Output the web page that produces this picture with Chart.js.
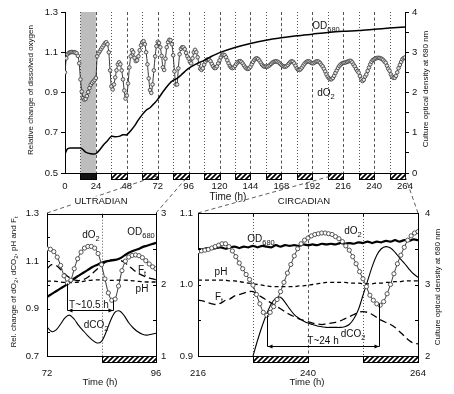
<!DOCTYPE html>
<html><head><meta charset="utf-8">
<script src="https://cdn.jsdelivr.net/npm/chart.js@4.4.1/dist/chart.umd.min.js"></script>
<style>
html,body{margin:0;padding:0;background:#fff;}
#wrap{position:relative;width:454px;height:394px;overflow:hidden;font-family:"Liberation Sans",Arial,sans-serif;color:#111;}
canvas{position:absolute;}
svg{position:absolute;left:0;top:0;}
.t{position:absolute;white-space:nowrap;line-height:1;transform:translate(-50%,-50%);font-size:10px;}
.t sub{font-size:0.75em;vertical-align:-0.35em;line-height:0;}
.r{transform:translate(-50%,-50%) rotate(-90deg);font-size:8px;}
.wb{background:#fff;padding:0 2px;}
</style></head><body><div id="wrap">
<canvas id="cTop" width="454" height="196" style="left:0;top:0"></canvas>
<canvas id="cBL" width="190" height="194" style="left:0;top:200px"></canvas>
<canvas id="cBR" width="284" height="194" style="left:170px;top:200px"></canvas>
<svg width="454" height="394"><g stroke="#333" stroke-width="0.8" stroke-dasharray="4 3" fill="none">
<path d="M47 213 L157 176"/><path d="M156 213 L189 175"/><path d="M198 213 L342 173"/><path d="M418 213 L405 176"/></g></svg>
<div class="t" style="left:326px;top:26px">OD<sub>680</sub></div>
<div class="t" style="left:326px;top:93px">dO<sub>2</sub></div>
<div class="t r" style="left:30.5px;top:90px">Relative change of dissolved oxygen</div>
<div class="t r" style="left:426px;top:89px">Culture optical density at 680 nm</div>
<div class="t" style="left:228px;top:197px">Time (h)</div>
<div class="t wb" style="left:101px;top:201px;font-size:9.5px">ULTRADIAN</div>
<div class="t wb" style="left:304px;top:201px;font-size:9.5px">CIRCADIAN</div>
<div class="t r" style="left:13.5px;top:282px">Rel. change of dO<sub>2</sub>, dCO<sub>2</sub>, pH and F<sub>t</sub></div>
<div class="t" style="left:91px;top:235px">dO<sub>2</sub></div>
<div class="t" style="left:141px;top:232px">OD<sub>680</sub></div>
<div class="t" style="left:142px;top:270px">F<sub>t</sub></div>
<div class="t" style="left:142px;top:289px">pH</div>
<div class="t" style="left:96px;top:325px">dCO<sub>2</sub></div>
<div class="t" style="left:89px;top:305px">T~10.5 h</div>
<div class="t" style="left:100px;top:381.5px;font-size:9.5px">Time (h)</div>
<div class="t" style="left:261px;top:239px">OD<sub>680</sub></div>
<div class="t" style="left:353px;top:231px">dO<sub>2</sub></div>
<div class="t" style="left:221px;top:272px">pH</div>
<div class="t" style="left:219px;top:297px">F<sub>t</sub></div>
<div class="t" style="left:353px;top:334px">dCO<sub>2</sub></div>
<div class="t" style="left:323px;top:341px">T~24 h</div>
<div class="t" style="left:307px;top:381.5px;font-size:9.5px">Time (h)</div>
<div class="t r" style="left:438px;top:287px">Culture optical density at 680 nm</div>
</div>
<script>
// ---------- DATA ----------
// Top panel: relative dissolved oxygen, hourly from 0 to 264 h
const o2Top = [
1.000,1.070,1.090,1.097,1.100,1.101,1.101,1.100,1.099,1.095,
1.082,1.045,0.965,0.905,0.872,0.865,0.868,0.882,0.902,0.922,
0.938,0.948,0.955,0.962,0.972,1.080,1.095,1.105,1.115,1.125,
1.135,1.145,1.150,1.140,1.100,1.010,0.930,0.915,0.940,0.975,
1.010,1.040,1.050,1.040,1.010,0.965,0.910,0.870,0.885,0.945,
1.025,1.080,1.110,1.100,1.072,1.056,1.060,1.080,1.110,1.135,
1.150,1.155,1.140,1.100,1.040,0.970,0.912,0.898,0.940,1.010,
1.080,1.130,1.152,1.146,1.125,1.082,1.025,1.012,1.068,1.125,
1.150,1.162,1.160,1.140,1.085,1.005,0.940,0.940,1.020,1.090,
1.117,1.125,1.124,1.115,1.097,1.080,1.068,1.052,1.045,1.070,
1.100,1.112,1.100,1.075,1.042,1.018,1.012,1.020,1.038,1.053,
1.062,1.065,1.062,1.055,1.042,1.030,1.022,1.022,1.030,1.045,
1.060,1.075,1.085,1.088,1.085,1.075,1.060,1.045,1.032,1.024,
1.021,1.024,1.032,1.042,1.050,1.055,1.056,1.052,1.044,1.034,
1.025,1.019,1.017,1.020,1.028,1.040,1.052,1.062,1.068,1.070,
1.066,1.058,1.048,1.038,1.031,1.028,1.029,1.028,1.031,1.036,
1.042,1.048,1.052,1.054,1.055,1.053,1.049,1.043,1.037,1.032,
1.029,1.028,1.031,1.037,1.045,1.052,1.055,1.053,1.045,1.033,
1.020,1.013,1.012,1.016,1.024,1.034,1.043,1.050,1.054,1.055,
1.053,1.048,1.045,1.046,1.050,1.054,1.055,1.053,1.047,1.038,
1.030,1.018,1.005,0.990,0.978,0.970,0.966,0.966,0.972,0.983,
0.997,1.010,1.022,1.032,1.039,1.044,1.047,1.048,1.050,1.052,
1.055,1.057,1.057,1.050,1.039,1.030,1.017,1.007,0.999,0.982,
0.965,0.957,0.963,0.979,0.990,1.007,1.024,1.040,1.053,1.061,
1.065,1.069,1.071,1.072,1.072,1.070,1.067,1.062,1.054,1.048,
1.033,1.018,1.008,0.990,0.979,0.973,0.973,0.983,1.000,1.021,
1.037,1.052,1.065,1.071,1.074];
const hoursTop = o2Top.map((_, i) => i);

const odTopHours = [0,2,4,8,12,14,16,20,24,27,30,33,36,39,42,45,48,51,54,57,60,63,66,69,72,75,78,81,84,87,90,93,96,102,108,114,120,132,144,156,168,180,192,204,216,228,240,252,264];
const odTop = [0.48,0.60,0.62,0.62,0.62,0.58,0.52,0.48,0.48,0.58,0.70,0.80,0.91,0.90,0.91,0.95,0.95,1.05,1.17,1.32,1.45,1.56,1.62,1.72,1.83,1.97,2.10,2.22,2.30,2.35,2.43,2.52,2.60,2.71,2.80,2.90,2.99,3.12,3.22,3.30,3.36,3.41,3.45,3.49,3.52,3.54,3.57,3.60,3.63];

const solidTop = [[12,24]];
const darkTop = [[12,24],[36,48],[60,72],[84,96],[108,120],[132,144],[156,168],[180,192],[204,216],[228,240],[252,264]];

// Bottom-left (ultradian, 72-96 h)
const o2BL = [1.152,1.150,1.140,1.117,1.082,1.038,1.008,1.020,1.068,1.110,1.138,1.155,1.162,1.162,1.155,1.132,1.085,1.025,0.966,0.935,0.940,0.995,1.060,1.100,1.117,1.124,1.126,1.123,1.115,1.102,1.088,1.076,1.068];
const o2BLHours = o2BL.map((_, i) => 72 + 0.75 * i);
const blHours = [72,73,74,75,76,77,78,79,80,81,82,83,84,85,86,87,88,89,90,91,92,93,94,95,96];
const odBL = [1.83,1.87,1.91,1.95,1.99,2.04,2.09,2.13,2.17,2.21,2.25,2.28,2.31,2.33,2.34,2.35,2.37,2.41,2.45,2.48,2.50,2.53,2.55,2.57,2.59];
const ftBL = [1.068,1.085,1.082,1.065,1.045,1.030,1.021,1.018,1.022,1.032,1.048,1.066,1.083,1.097,1.105,1.107,1.104,1.095,1.080,1.064,1.050,1.040,1.032,1.026,1.022];
const phBL = [1.015,1.016,1.015,1.012,1.010,1.009,1.010,1.012,1.015,1.018,1.020,1.021,1.021,1.020,1.019,1.019,1.020,1.020,1.019,1.017,1.015,1.013,1.012,1.012,1.012];
const co2BL = [0.823,0.803,0.810,0.835,0.862,0.872,0.855,0.828,0.806,0.785,0.767,0.755,0.762,0.800,0.850,0.885,0.890,0.870,0.840,0.818,0.802,0.792,0.788,0.792,0.796];
const darkBL = [[84,96]];
const periodBLHours = [76.4, 86.5];
const periodBLLevels = [1.006, 0.896, 0.935];

// Bottom-right (circadian, 216-264 h)
const o2BR = [
1.046,1.047,1.048,1.049,1.051,1.053,1.055,1.057,1.057,1.053,
1.047,1.039,1.030,1.022,1.014,1.007,0.999,0.986,0.973,0.961,
0.957,0.961,0.969,0.979,0.990,1.003,1.016,1.028,1.040,1.050,
1.057,1.062,1.065,1.068,1.070,1.071,1.072,1.072,1.071,1.070,
1.067,1.064,1.060,1.054,1.048,1.039,1.029,1.018,1.008,0.997,
0.985,0.978,0.973,0.971,0.976,0.987,1.000,1.015,1.029,1.041,
1.052,1.062,1.068,1.072,1.074];
const o2BRHours = o2BR.map((_, i) => 216 + 0.75 * i);
const brHours = [216,217,218,219,220,221,222,223,224,225,226,227,228,229,230,231,232,233,234,235,236,237,238,239,240,241,242,243,244,245,246,247,248,249,250,251,252,253,254,255,256,257,258,259,260,261,262,263,264];
const odBR = [
3.50,3.49,3.51,3.50,3.51,3.52,3.50,3.52,3.53,3.51,
3.53,3.52,3.54,3.52,3.54,3.53,3.52,3.55,3.53,3.55,
3.54,3.55,3.54,3.56,3.55,3.56,3.55,3.57,3.56,3.57,
3.56,3.58,3.57,3.58,3.57,3.59,3.58,3.60,3.58,3.60,
3.59,3.61,3.60,3.62,3.60,3.62,3.61,3.63,3.62];
const phBR = [
1.006,1.006,1.006,1.006,1.006,1.006,1.006,1.005,1.005,1.004,
1.003,1.002,1.001,1.000,0.999,0.998,0.997,0.997,0.997,0.997,
0.997,0.997,0.998,0.998,0.999,1.000,1.001,1.002,1.003,1.003,
1.003,1.003,1.003,1.002,1.002,1.002,1.001,1.001,1.001,1.002,
1.002,1.003,1.003,1.004,1.004,1.005,1.005,1.005,1.005];
const ftBR = [
0.978,0.977,0.975,0.973,0.972,0.974,0.978,0.980,0.984,0.986,
0.988,0.990,0.990,0.986,0.982,0.978,0.974,0.970,0.966,0.962,
0.958,0.955,0.952,0.950,0.948,0.946,0.945,0.944,0.945,0.946,
0.947,0.949,0.952,0.955,0.958,0.961,0.962,0.961,0.958,0.954,
0.950,0.947,0.944,0.940,0.934,0.928,0.922,0.918,0.917];
const co2BRHours = [228,229,230,231,232,233,234,235,236,237,238,239,240,241,242,243,244,245,246,247,248,249,250,251,252,253,254,255,256,257,258,259,260,261,262,263,264];
const co2BR = [0.900,0.922,0.942,0.959,0.973,0.981,0.982,0.975,0.966,0.958,0.953,0.949,0.946,0.944,0.942,0.941,0.940,0.940,0.940,0.940,0.941,0.944,0.952,0.965,0.985,1.005,1.025,1.041,1.050,1.053,1.051,1.045,1.037,1.030,1.022,1.015,1.010];
const darkBR = [[228,240],[252,264]];
const periodBRHours = [231.1, 255.6];
const periodBRLevels = [0.957, 0.914, 0.973];

// ---------- HELPERS ----------
const pts = (xs, ys) => xs.map((x, i) => ({x, y: ys[i]}));
Chart.defaults.font.family = '"Liberation Sans", Arial, sans-serif';
Chart.defaults.font.size = 9.5;
Chart.defaults.color = '#111';
Chart.defaults.animation = false;

function hatch(ctx){
  const c = document.createElement('canvas'); c.width = 5; c.height = 5;
  const g = c.getContext('2d'); g.fillStyle = '#fff'; g.fillRect(0,0,5,5);
  g.strokeStyle = '#000'; g.lineWidth = 1.7; g.beginPath();
  g.moveTo(-1,6); g.lineTo(6,-1); g.moveTo(-1,1); g.lineTo(1,-1); g.moveTo(4,6); g.lineTo(6,4); g.stroke();
  return ctx.createPattern(c, 'repeat');
}

const decor = {
  id: 'decor',
  beforeDatasetsDraw(chart, args, o){
    const {ctx, chartArea: a} = chart; const x = chart.scales.x;
    ctx.save();
    (o.shade || []).forEach(([s, e]) => {
      const x0 = x.getPixelForValue(s), x1 = x.getPixelForValue(e);
      ctx.fillStyle = '#bdbdbd'; ctx.fillRect(x0, a.top, x1 - x0, a.bottom - a.top);
    });
    ctx.lineWidth = 1; ctx.strokeStyle = '#555';
    (o.dark || []).forEach(([s, e]) => {
      [[s, [1, 2]], [e, [3, 2.5]]].forEach(([t, dash]) => {
        if (t <= x.min || t >= x.max) return;
        const xx = Math.round(x.getPixelForValue(t)) + 0.5;
        ctx.setLineDash(dash); ctx.beginPath(); ctx.moveTo(xx, a.top); ctx.lineTo(xx, a.bottom); ctx.stroke();
      });
    });
    ctx.restore();
  },
  afterDraw(chart, args, o){
    const {ctx, chartArea: a} = chart; const x = chart.scales.x;
    ctx.save();
    const pat = hatch(ctx);
    const yb = Math.round(a.bottom) + 0.5, h = 6;
    (o.dark || []).forEach(([s, e]) => {
      const x0 = Math.round(x.getPixelForValue(s)) + 0.5, x1 = Math.round(x.getPixelForValue(e)) + 0.5;
      const solid = (o.solid || []).some(([ss]) => ss === s);
      ctx.fillStyle = solid ? '#111' : pat;
      ctx.fillRect(x0, yb, x1 - x0, h);
      ctx.strokeStyle = '#000'; ctx.lineWidth = 1; ctx.setLineDash([]);
      ctx.strokeRect(x0, yb, x1 - x0, h);
    });
    ctx.strokeStyle = '#000'; ctx.lineWidth = 1;
    if (o.box) {
      const yt = Math.round(a.top) + 0.5;
      ctx.beginPath(); ctx.moveTo(a.left, yt); ctx.lineTo(a.right, yt); ctx.stroke();
      x.ticks.forEach(t => {
        if (t.value <= x.min || t.value >= x.max) return;
        const xx = Math.round(x.getPixelForValue(t.value)) + 0.5;
        ctx.beginPath(); ctx.moveTo(xx, yt); ctx.lineTo(xx, yt + 3); ctx.stroke();
      });
    }
    if (o.inTicks) {
      ['y', 'y2'].forEach(id => {
        const s = chart.scales[id];
        s.ticks.forEach(t => {
          const yy = Math.round(s.getPixelForValue(t.value)) + 0.5;
          ctx.beginPath();
          if (s.position === 'left') { ctx.moveTo(a.left, yy); ctx.lineTo(a.left + 3, yy); }
          else { ctx.moveTo(a.right, yy); ctx.lineTo(a.right - 3, yy); }
          ctx.stroke();
        });
      });
    }
    if (o.period) {
      const y = chart.scales.y;
      const [t1, t2] = o.period.t, [top1, lvl, top2] = o.period.y;
      const x1 = Math.round(x.getPixelForValue(t1)) + 0.5, x2 = Math.round(x.getPixelForValue(t2)) + 0.5;
      const yl = Math.round(y.getPixelForValue(lvl)) + 0.5;
      ctx.beginPath();
      ctx.moveTo(x1, y.getPixelForValue(top1)); ctx.lineTo(x1, yl); ctx.lineTo(x2, yl); ctx.lineTo(x2, y.getPixelForValue(top2));
      ctx.stroke();
      ctx.fillStyle = '#000';
      ctx.beginPath(); ctx.moveTo(x1 + 0.5, yl); ctx.lineTo(x1 + 5, yl - 2); ctx.lineTo(x1 + 5, yl + 2); ctx.closePath(); ctx.fill();
      ctx.beginPath(); ctx.moveTo(x2 - 0.5, yl); ctx.lineTo(x2 - 5, yl - 2); ctx.lineTo(x2 - 5, yl + 2); ctx.closePath(); ctx.fill();
    }
    ctx.restore();
  }
};

function yAxis(pos, min, max, step, cb, width, inward, pad){
  return {
    type: 'linear', position: pos, min, max,
    afterFit: s => { s.width = width; },
    ticks: {stepSize: step, autoSkip: false, padding: pad, callback: cb},
    grid: {display: !inward, drawOnChartArea: false, drawTicks: !inward, tickLength: 4, color: '#000', lineWidth: 1},
    border: {display: true, color: '#000', width: 1}
  };
}
function xAxis(min, max, step, cb, height, pad){
  return {
    type: 'linear', min, max,
    afterFit: s => { s.height = height; },
    ticks: {stepSize: step, autoSkip: false, maxRotation: 0, padding: pad, callback: cb},
    grid: {display: false, drawTicks: false, tickLength: 0},
    border: {display: true, color: '#000', width: 1}
  };
}
const fix1 = v => v.toFixed(1);
const intOnly = v => Number.isInteger(v) ? String(v) : '';
const oddTenth = v => (Math.round(v * 10) % 2 === 1) ? v.toFixed(1) : '';
const wholeTenth = v => Math.abs(v * 10 - Math.round(v * 10)) < 1e-6 ? v.toFixed(1) : '';
const commonPlugins = {legend: {display: false}, tooltip: {enabled: false}};
const circ = (r, fill, edge) => ({borderColor: '#222', borderWidth: 0.9, pointRadius: r, pointBackgroundColor: fill, pointBorderColor: edge, pointBorderWidth: 0.9, tension: 0.25});
const plain = (w, dash) => ({borderColor: '#000', borderWidth: w, borderDash: dash || [], pointRadius: 0, tension: 0.3});

// ---------- TOP ----------
new Chart(document.getElementById('cTop'), {
  type: 'line',
  data: {datasets: [
    Object.assign({label: 'OD680', data: pts(odTopHours, odTop), yAxisID: 'y2'}, plain(1.5)),
    Object.assign({label: 'dO2', data: pts(hoursTop, o2Top), yAxisID: 'y'}, circ(1.8, '#e4e4e4', '#444'))
  ]},
  options: {
    responsive: false, animation: false,
    layout: {padding: {top: 12, left: 0, right: 0, bottom: 0}},
    scales: {
      x: xAxis(0, 264, 24, v => String(v), 23, 8),
      y: yAxis('left', 0.5, 1.3, 0.2, fix1, 65, false, 3),
      y2: yAxis('right', 0, 4, 0.5, intOnly, 49, false, 3)
    },
    plugins: Object.assign({decor: {shade: solidTop, dark: darkTop, solid: solidTop}}, commonPlugins)
  },
  plugins: [decor]
});

// ---------- BOTTOM LEFT ----------
new Chart(document.getElementById('cBL'), {
  type: 'line',
  data: {datasets: [
    Object.assign({label: 'dO2', data: pts(o2BLHours, o2BL), yAxisID: 'y'}, circ(2.1, '#fff', '#444')),
    Object.assign({label: 'OD680', data: pts(blHours, odBL), yAxisID: 'y2'}, plain(2.2)),
    Object.assign({label: 'Ft', data: pts(blHours, ftBL), yAxisID: 'y'}, plain(1.3, [7, 4])),
    Object.assign({label: 'pH', data: pts(blHours, phBL), yAxisID: 'y'}, plain(1.3, [4, 3])),
    Object.assign({label: 'dCO2', data: pts(blHours, co2BL), yAxisID: 'y'}, plain(1.1))
  ]},
  options: {
    responsive: false, animation: false,
    layout: {padding: {top: 13, left: 0, right: 0, bottom: 0}},
    scales: {
      x: xAxis(72, 96, 12, v => (v === 84 ? '' : String(v)), 38, 12),
      y: yAxis('left', 0.7, 1.3, 0.1, oddTenth, 47, true, 8),
      y2: yAxis('right', 1, 3, 0.5, intOnly, 34, true, 5)
    },
    plugins: Object.assign({decor: {dark: darkBL, box: true, inTicks: true, period: {t: periodBLHours, y: periodBLLevels}}}, commonPlugins)
  },
  plugins: [decor]
});

// ---------- BOTTOM RIGHT ----------
new Chart(document.getElementById('cBR'), {
  type: 'line',
  data: {datasets: [
    Object.assign({label: 'dO2', data: pts(o2BRHours, o2BR), yAxisID: 'y'}, circ(2.1, '#fff', '#444')),
    Object.assign({label: 'OD680', data: pts(brHours, odBR), yAxisID: 'y2'}, plain(2.2)),
    Object.assign({label: 'Ft', data: pts(brHours, ftBR), yAxisID: 'y'}, plain(1.3, [7, 4])),
    Object.assign({label: 'pH', data: pts(brHours, phBR), yAxisID: 'y'}, plain(1.3, [4, 3])),
    Object.assign({label: 'dCO2', data: pts(co2BRHours, co2BR), yAxisID: 'y'}, plain(1.1))
  ]},
  options: {
    responsive: false, animation: false,
    layout: {padding: {top: 13, left: 0, right: 0, bottom: 0}},
    scales: {
      x: xAxis(216, 264, 12, v => ((v === 228 || v === 252) ? '' : String(v)), 38, 12),
      y: yAxis('left', 0.9, 1.1, 0.05, wholeTenth, 28, true, 5),
      y2: yAxis('right', 2, 4, 0.5, intOnly, 36, true, 7)
    },
    plugins: Object.assign({decor: {dark: darkBR, box: true, inTicks: true, period: {t: periodBRHours, y: periodBRLevels}}}, commonPlugins)
  },
  plugins: [decor]
});
</script>
</body></html>
